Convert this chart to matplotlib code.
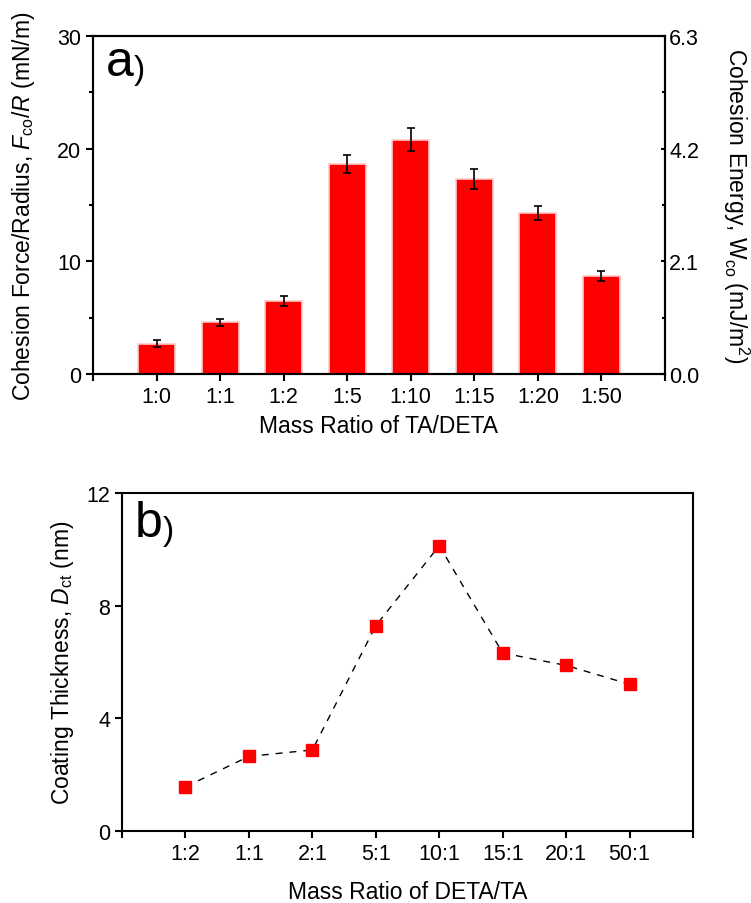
import numpy as np
import matplotlib.pyplot as plt
from matplotlib.ticker import MultipleLocator, FixedLocator

plt.rcParams['font.family'] = ['Liberation Sans', 'DejaVu Sans']
plt.rcParams['mathtext.fontset'] = 'custom'
plt.rcParams['mathtext.rm'] = 'Liberation Sans'
plt.rcParams['mathtext.it'] = 'Liberation Sans:italic'

# ---- panel a data ----
ratio_a = ['1:0', '1:1', '1:2', '1:5', '1:10', '1:15', '1:20', '1:50']
force = [2.7, 4.6, 6.5, 18.6, 20.8, 17.3, 14.3, 8.7]
force_err = [0.3, 0.3, 0.45, 0.8, 1.05, 0.85, 0.65, 0.45]

# ---- panel b data ----
ratio_b = ['1:2', '1:1', '2:1', '5:1', '10:1', '15:1', '20:1', '50:1']
thickness = [1.57, 2.65, 2.88, 7.29, 10.13, 6.32, 5.88, 5.21]

fig = plt.figure(figsize=(7.51, 9.04), dpi=100)
fs_tick = 15.5
fs_lab = 16.5
lw = 1.5


def style_axis(ax, labels):
    for s in ax.spines.values():
        s.set_linewidth(lw)
    ax.set_xlim(0, 9)
    ax.xaxis.set_major_locator(FixedLocator(range(10)))
    ax.set_xticklabels([''] + labels + [''])
    ax.tick_params(axis='x', direction='out', length=5, width=lw, labelsize=fs_tick, top=False)
    ax.tick_params(axis='y', which='major', direction='out', length=5, width=lw,
                   labelsize=fs_tick, right=False)


def panel_label(ax, letter, ypos):
    t = ax.text(0.022, ypos, letter, transform=ax.transAxes, fontsize=36,
                va='baseline', ha='left')
    ax.annotate(')', xy=(1, 0.0), xycoords=t, fontsize=24, va='bottom', ha='left')


# ---------------- a) ----------------
ax1 = fig.add_axes([0.1238, 0.5852, 0.7617, 0.3739])
x = np.arange(1, len(ratio_a) + 1)
ax1.bar(x, force, width=0.58, color='#ff0000', edgecolor='#ffc8c8', linewidth=1.2,
        yerr=force_err, error_kw=dict(ecolor='black', elinewidth=1.2, capsize=3, capthick=1.2))
style_axis(ax1, ratio_a)
ax1.set_ylim(0, 30)
ax1.yaxis.set_major_locator(MultipleLocator(10))
ax1.yaxis.set_minor_locator(MultipleLocator(5))
ax1.tick_params(axis='y', which='minor', direction='out', length=3, width=lw)
ax1.set_xlabel('Mass Ratio of TA/DETA', fontsize=fs_lab, va='top')
ax1.xaxis.set_label_coords(0.5, -0.118)
ax1.set_ylabel('Cohesion Force/Radius, $\\mathit{F}_{\\mathrm{co}}$/$\\mathit{R}$ (mN/m)',
               fontsize=fs_lab)
ax1.yaxis.set_label_coords(-0.098, 0.5)
panel_label(ax1, 'a', 0.885)

ax1r = ax1.twinx()
ax1r.set_ylim(0, 6.3)
ax1r.yaxis.set_major_locator(MultipleLocator(2.1))
ax1r.yaxis.set_minor_locator(MultipleLocator(1.05))
ax1r.yaxis.set_major_formatter(plt.FormatStrFormatter('%.1f'))
ax1r.tick_params(axis='y', which='major', direction='in', length=3, width=lw,
                 labelsize=fs_tick, pad=3)
ax1r.tick_params(axis='y', which='minor', direction='in', length=2, width=lw)
for s in ax1r.spines.values():
    s.set_linewidth(lw)
ax1r.set_ylabel('Cohesion Energy, W$_{\\mathrm{co}}$ (mJ/m$^{2}$)', fontsize=fs_lab,
                rotation=270)
ax1r.yaxis.label.set_verticalalignment('bottom')
ax1r.yaxis.set_label_coords(1.098, 0.5)

# ---------------- b) ----------------
ax2 = fig.add_axes([0.1625, 0.0796, 0.7603, 0.3739])
xb = np.arange(1, len(ratio_b) + 1)
ax2.plot(xb, thickness, linestyle=(0, (5, 5)), color='black', linewidth=1.0,
         marker='s', markersize=9, markerfacecolor='#ff0000', markeredgecolor='#ff0000')
style_axis(ax2, ratio_b)
ax2.set_ylim(0, 12)
ax2.yaxis.set_major_locator(MultipleLocator(4))
ax2.set_xlabel('Mass Ratio of DETA/TA', fontsize=fs_lab, va='top')
ax2.xaxis.set_label_coords(0.5, -0.145)
ax2.set_ylabel('Coating Thickness, $\\mathit{D}_{\\mathrm{ct}}$ (nm)', fontsize=fs_lab)
ax2.yaxis.set_label_coords(-0.08, 0.5)
panel_label(ax2, 'b', 0.873)

fig.savefig('out.png', dpi=100)
